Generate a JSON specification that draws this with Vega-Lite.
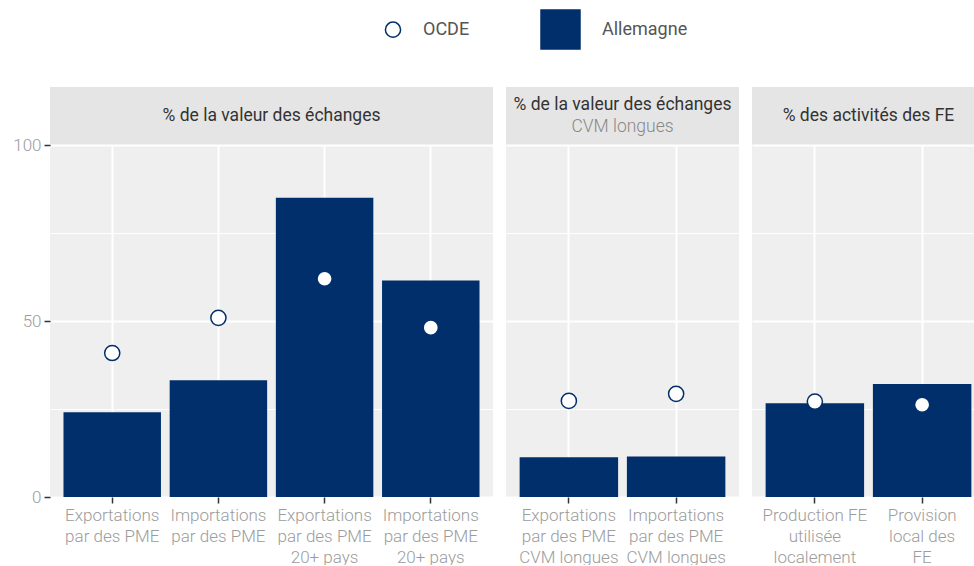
{
  "$schema": "https://vega.github.io/schema/vega-lite/v6.json",
  "padding": {"top": 9, "left": 0, "right": 0, "bottom": 0},
  "background": "white",
  "config": {
    "font": "Roboto",
    "view": {"stroke": null},
    "axis": {"domain": false},
    "legend": {"padding": 0}
  },
  "datasets": {
    "values": [
      {"panel": "A", "cat": "Exportations|par des PME", "allemagne": 24.1, "ocde": 40.9},
      {"panel": "A", "cat": "Importations|par des PME", "allemagne": 33.2, "ocde": 50.9},
      {"panel": "A", "cat": "Exportations|par des PME|20+ pays", "allemagne": 85.0, "ocde": 62.0},
      {"panel": "A", "cat": "Importations|par des PME|20+ pays", "allemagne": 61.5, "ocde": 48.1},
      {"panel": "B", "cat": "Exportations|par des PME|CVM longues", "allemagne": 11.3, "ocde": 27.3},
      {"panel": "B", "cat": "Importations|par des PME|CVM longues", "allemagne": 11.5, "ocde": 29.3},
      {"panel": "C", "cat": "Production FE|utilisée|localement", "allemagne": 26.6, "ocde": 27.1},
      {"panel": "C", "cat": "Provision|local des|FE", "allemagne": 32.1, "ocde": 26.2}
    ],
    "headers": [
      {"panel": "A", "title": "% de la valeur des échanges", "sub": ""},
      {"panel": "B", "title": "% de la valeur des échanges", "sub": "CVM longues"},
      {"panel": "C", "title": "% des activités des FE", "sub": ""}
    ]
  },
  "spacing": 13,
  "hconcat": [
    {
      "spacing": 0,
      "bounds": "flush",
      "vconcat": [
        {
          "data": {"name": "headers"},
          "transform": [{"filter": "datum.panel === 'A'"}],
          "width": 443, "height": 58,
          "view": {"fill": "#e5e5e5", "stroke": null},
          "mark": {"type": "text", "fontSize": 17.5, "color": "#333333"},
          "encoding": {"text": {"field": "title"}}
        },
        {
          "data": {"name": "values"},
          "transform": [{"filter": "datum.panel === 'A'"}],
          "width": 443, "height": 352,
          "view": {"fill": "#efefef", "stroke": null},
          "encoding": {
            "x": {"field": "cat", "type": "nominal", "sort": null,
              "scale": {"paddingInner": 0.082, "paddingOuter": 0.127},
              "axis": {"title": null, "labelAngle": 0, "labelExpr": "split(datum.label, '|')", "labelFontSize": 17, "labelFontWeight": 300, "labelColor": "#9c9c9c", "labelLineHeight": 21, "labelPadding": 4, "labelLimit": 300, "labelOverlap": false, "labelBound": false, "tickSize": 6, "tickWidth": 1.5, "tickColor": "#333333", "grid": true, "gridColor": "white", "gridWidth": 2, "bandPosition": 0.5}}
          },
          "layer": [
            {
              "mark": {"type": "bar", "color": "#002f6c"},
              "encoding": {
                "y": {"field": "allemagne", "type": "quantitative", "scale": {"domain": [0, 100]},
                  "axis": {"title": null, "values": [0, 25, 50, 75, 100], "labelExpr": "datum.value % 50 === 0 ? datum.label : ''", "labelFontSize": 17, "labelFontWeight": 300, "labelColor": "#9c9c9c", "labelFlush": false, "labelPadding": 3, "tickColor": "#333333", "tickWidth": 1.5, "tickSize": 6, "tickOpacity": {"condition": {"test": "datum.value % 50 === 0", "value": 1}, "value": 0}, "grid": true, "gridColor": "white", "gridWidth": {"condition": {"test": "datum.value % 50 === 0", "value": 2}, "value": 1}, "minExtent": 50, "maxExtent": 50}}
              }
            },
            {
              "mark": {"type": "point", "filled": true, "stroke": "#002f6c", "strokeWidth": 1.5, "opacity": 1},
              "encoding": {
                "y": {"field": "ocde", "type": "quantitative", "scale": {"domain": [0, 100]},
                  "axis": {"title": null, "values": [0, 25, 50, 75, 100], "labelExpr": "datum.value % 50 === 0 ? datum.label : ''", "labelFontSize": 17, "labelFontWeight": 300, "labelColor": "#9c9c9c", "labelFlush": false, "labelPadding": 3, "tickColor": "#333333", "tickWidth": 1.5, "tickSize": 6, "tickOpacity": {"condition": {"test": "datum.value % 50 === 0", "value": 1}, "value": 0}, "grid": true, "gridColor": "white", "gridWidth": {"condition": {"test": "datum.value % 50 === 0", "value": 2}, "value": 1}, "minExtent": 50, "maxExtent": 50}},
                "fill": {"datum": "OCDE", "type": "nominal", "scale": {"domain": ["OCDE", "Allemagne"], "range": ["white", "#002f6c"]},
                  "legend": {"title": null, "orient": "none", "legendX": 334, "legendY": -78, "direction": "horizontal", "labelFontSize": 18, "labelColor": "#555555", "labelOffset": 21, "columnPadding": 68, "encode": {"symbols": {"update": {"stroke": {"value": "#002f6c"}, "strokeWidth": {"value": 1.5}}}}}},
                "shape": {"datum": "OCDE", "type": "nominal", "scale": {"domain": ["OCDE", "Allemagne"], "range": ["circle", "square"]},
                  "legend": {"title": null, "orient": "none", "legendX": 334, "legendY": -78, "direction": "horizontal", "labelFontSize": 18, "labelColor": "#555555", "labelOffset": 21, "columnPadding": 68, "encode": {"symbols": {"update": {"stroke": {"value": "#002f6c"}, "strokeWidth": {"value": 1.5}}}}}},
                "size": {"datum": "OCDE", "type": "nominal", "scale": {"type": "point", "padding": 0, "domain": ["OCDE", "Allemagne"], "range": [230, 1520]},
                  "legend": {"title": null, "orient": "none", "legendX": 334, "legendY": -78, "direction": "horizontal", "labelFontSize": 18, "labelColor": "#555555", "labelOffset": 21, "columnPadding": 68, "encode": {"symbols": {"update": {"stroke": {"value": "#002f6c"}, "strokeWidth": {"value": 1.5}}}}}}
              }
            }
          ]
        }
      ]
    },
    {
      "spacing": 0,
      "bounds": "flush",
      "vconcat": [
        {
          "data": {"name": "headers"},
          "transform": [{"filter": "datum.panel === 'B'"}],
          "width": 233, "height": 58,
          "view": {"fill": "#e5e5e5", "stroke": null},
          "layer": [
            {"mark": {"type": "text", "fontSize": 17.5, "color": "#333333", "dy": -11}, "encoding": {"text": {"field": "title"}}},
            {"mark": {"type": "text", "fontSize": 17.5, "fontWeight": 300, "color": "#888888", "dy": 11}, "encoding": {"text": {"field": "sub"}}}
          ]
        },
        {
          "data": {"name": "values"},
          "transform": [{"filter": "datum.panel === 'B'"}],
          "width": 233, "height": 352,
          "view": {"fill": "#efefef", "stroke": null},
          "encoding": {
            "x": {"field": "cat", "type": "nominal", "sort": null,
              "scale": {"paddingInner": 0.082, "paddingOuter": 0.127},
              "axis": {"title": null, "labelAngle": 0, "labelExpr": "split(datum.label, '|')", "labelFontSize": 17, "labelFontWeight": 300, "labelColor": "#9c9c9c", "labelLineHeight": 21, "labelPadding": 4, "labelLimit": 300, "labelOverlap": false, "labelBound": false, "tickSize": 6, "tickWidth": 1.5, "tickColor": "#333333", "grid": true, "gridColor": "white", "gridWidth": 2, "bandPosition": 0.5}}
          },
          "layer": [
            {
              "mark": {"type": "bar", "color": "#002f6c"},
              "encoding": {
                "y": {"field": "allemagne", "type": "quantitative", "scale": {"domain": [0, 100]},
                  "axis": {"title": null, "values": [0, 25, 50, 75, 100], "labels": false, "ticks": false, "grid": true, "gridColor": "white", "gridWidth": {"condition": {"test": "datum.value % 50 === 0", "value": 2}, "value": 1}, "minExtent": 0, "maxExtent": 0}}
              }
            },
            {
              "mark": {"type": "point", "filled": true, "fill": "white", "stroke": "#002f6c", "strokeWidth": 1.5, "size": 230, "opacity": 1},
              "encoding": {"y": {"field": "ocde", "type": "quantitative", "scale": {"domain": [0, 100]},
                "axis": {"title": null, "values": [0, 25, 50, 75, 100], "labels": false, "ticks": false, "grid": true, "gridColor": "white", "gridWidth": {"condition": {"test": "datum.value % 50 === 0", "value": 2}, "value": 1}, "minExtent": 0, "maxExtent": 0}}}
            }
          ]
        }
      ]
    },
    {
      "spacing": 0,
      "bounds": "flush",
      "vconcat": [
        {
          "data": {"name": "headers"},
          "transform": [{"filter": "datum.panel === 'C'"}],
          "width": 233, "height": 58,
          "view": {"fill": "#e5e5e5", "stroke": null},
          "mark": {"type": "text", "fontSize": 17.5, "color": "#333333"},
          "encoding": {"text": {"field": "title"}}
        },
        {
          "data": {"name": "values"},
          "transform": [{"filter": "datum.panel === 'C'"}],
          "width": 233, "height": 352,
          "view": {"fill": "#efefef", "stroke": null},
          "encoding": {
            "x": {"field": "cat", "type": "nominal", "sort": null,
              "scale": {"paddingInner": 0.082, "paddingOuter": 0.127},
              "axis": {"title": null, "labelAngle": 0, "labelExpr": "split(datum.label, '|')", "labelFontSize": 17, "labelFontWeight": 300, "labelColor": "#9c9c9c", "labelLineHeight": 21, "labelPadding": 4, "labelLimit": 300, "labelOverlap": false, "labelBound": false, "tickSize": 6, "tickWidth": 1.5, "tickColor": "#333333", "grid": true, "gridColor": "white", "gridWidth": 2, "bandPosition": 0.5}}
          },
          "layer": [
            {
              "mark": {"type": "bar", "color": "#002f6c"},
              "encoding": {
                "y": {"field": "allemagne", "type": "quantitative", "scale": {"domain": [0, 100]},
                  "axis": {"title": null, "values": [0, 25, 50, 75, 100], "labels": false, "ticks": false, "grid": true, "gridColor": "white", "gridWidth": {"condition": {"test": "datum.value % 50 === 0", "value": 2}, "value": 1}, "minExtent": 0, "maxExtent": 0}}
              }
            },
            {
              "mark": {"type": "point", "filled": true, "fill": "white", "stroke": "#002f6c", "strokeWidth": 1.5, "size": 230, "opacity": 1},
              "encoding": {"y": {"field": "ocde", "type": "quantitative", "scale": {"domain": [0, 100]},
                "axis": {"title": null, "values": [0, 25, 50, 75, 100], "labels": false, "ticks": false, "grid": true, "gridColor": "white", "gridWidth": {"condition": {"test": "datum.value % 50 === 0", "value": 2}, "value": 1}, "minExtent": 0, "maxExtent": 0}}}
            }
          ]
        }
      ]
    }
  ]
}
